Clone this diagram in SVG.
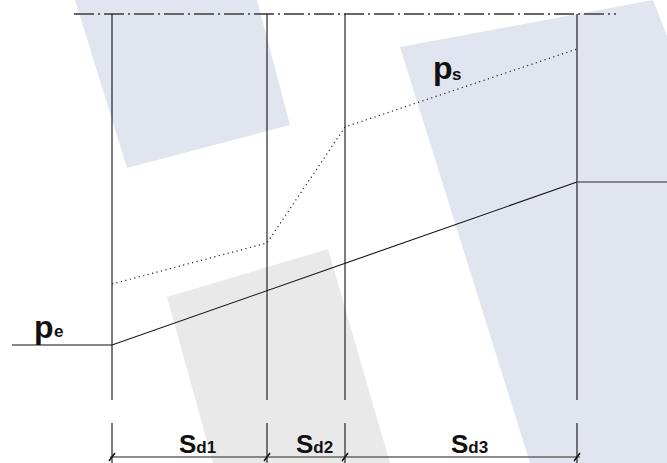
<svg xmlns="http://www.w3.org/2000/svg" width="667" height="463" viewBox="0 0 667 463">
<style>
.bgb{fill:#e0e5ef}
.bgg{fill:#e9e9e9}
.ln{stroke:#111;stroke-width:1.1;fill:none}
.dot{stroke:#222;stroke-width:1.2;stroke-dasharray:1.2 3.4;fill:none}
.axis{stroke:#666;stroke-width:2;stroke-dasharray:20 4 2 4;fill:none}
.dim{stroke:#666;stroke-width:1.5;fill:none}
.tick{stroke:#111;stroke-width:1.5;fill:none}
.lbl{font-family:"Liberation Sans",Arial,sans-serif;font-weight:bold;fill:#111}
</style>
<g id="background">
<polygon class="bgb" points="75,0 257,0 290,125 127,168"/>
<polygon class="bgg" points="167,297 328,249 390,463 213,463"/>
<polygon class="bgb" points="400,47 653,0 667,36 667,463 530,463"/>
</g>
<g id="axis">
<line class="axis" x1="74" y1="14" x2="616" y2="14"/>
</g>
<g id="verticals">
<line class="ln" x1="112" y1="14" x2="112" y2="400"/>
<line class="ln" x1="112" y1="423" x2="112" y2="463"/>
<line class="ln" x1="267" y1="14" x2="267" y2="400"/>
<line class="ln" x1="267" y1="423" x2="267" y2="463"/>
<line class="ln" x1="345" y1="14" x2="345" y2="400" stroke="#444"/>
<line class="ln" x1="345" y1="423" x2="345" y2="463" stroke="#444"/>
<line class="ln" x1="577" y1="14" x2="577" y2="400"/>
<line class="ln" x1="577" y1="423" x2="577" y2="463"/>
</g>
<g id="connectors">
<polyline class="ln" points="12,345 112,345 577,182"/>
<line class="dim" x1="577" y1="182" x2="667" y2="182"/>
<polyline class="dot" points="112,284 267,243 345,127 577,49"/>
</g>
<g id="dimension">
<line class="dim" x1="110" y1="457" x2="580" y2="457"/>
<path class="tick" d="M109,461 L115,453 M264,461 L270,453 M342,461 L348,453 M574,461 L580,453"/>
</g>
<g id="label-pe">
<text class="lbl" x="34" y="338" font-size="32">p</text>
<text class="lbl" x="54" y="337" font-size="17">e</text>
</g>
<g id="label-ps">
<text class="lbl" x="433" y="79" font-size="32">p</text>
<text class="lbl" x="452" y="80" font-size="17">s</text>
</g>
<g id="label-sd">
<text class="lbl" x="179" y="453" font-size="26">S<tspan font-size="17">d1</tspan></text>
<text class="lbl" x="296" y="453" font-size="26">S<tspan font-size="17">d2</tspan></text>
<text class="lbl" x="451" y="453" font-size="26">S<tspan font-size="17">d3</tspan></text>
</g>
</svg>
